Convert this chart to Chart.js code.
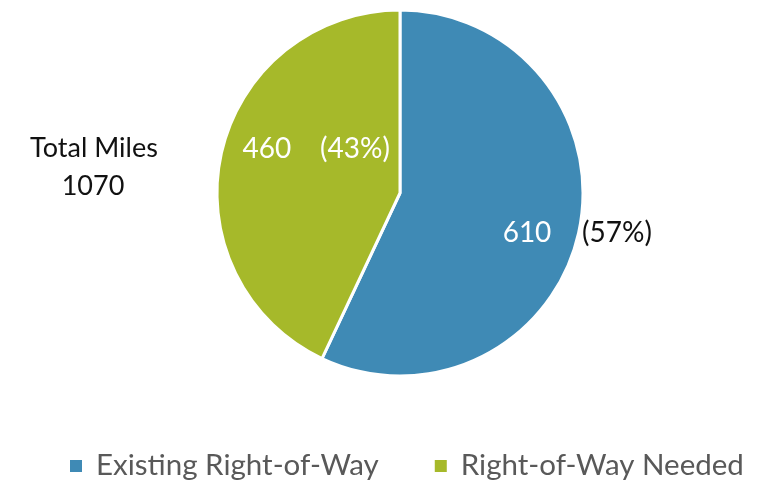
<!DOCTYPE html>
<html>
<head>
<meta charset="utf-8">
<script src="https://cdn.jsdelivr.net/npm/chart.js@4.4.0/dist/chart.umd.min.js"></script>
<style>
  html, body { margin: 0; padding: 0; background: #fff; }
  #wrap { width: 772px; height: 481px; }
</style>
</head>
<body>
<div id="wrap"><canvas id="pie" width="772" height="481"></canvas></div>
<script>
const categories = ['Existing Right-of-Way', 'Right-of-Way Needed']
const miles = [610, 460]
const percents = ['(57%)', '(43%)']
const colors = ['#3f8ab5', '#a6b92a']

const FONT = 'Lato, "Open Sans", sans-serif'

// label pieces placed relative to the pie centre, in units of radius
const labelSpots = [
    [{ dx: 0.694, dy: 0.268, part: 'value', color: '#fff' }, { dx: 1.186, dy: 0.268, part: 'pct', color: '#111' }],
    [{ dx: -0.727, dy: -0.191, part: 'value', color: '#fff' }, { dx: -0.246, dy: -0.191, part: 'pct', color: '#fff' }]
]

const sliceLabels = {
    id: 'sliceLabels',
    afterDatasetsDraw(chart) {
        const ctx = chart.ctx
        const arcs = chart.getDatasetMeta(0).data
        ctx.save()
        ctx.font = '28px ' + FONT
        ctx.textAlign = 'center'
        ctx.textBaseline = 'alphabetic'
        arcs.forEach((arc, i) => {
            labelSpots[i].forEach(spot => {
                const text = spot.part === 'value' ? String(miles[i]) : percents[i]
                ctx.fillStyle = spot.color
                ctx.fillText(text, arc.x + spot.dx * arc.outerRadius, arc.y + spot.dy * arc.outerRadius)
            })
        })
        // total, to the left of the pie
        const total = miles.reduce((a, b) => a + b, 0)
        ctx.fillStyle = '#111'
        ctx.font = '27px ' + FONT
        ctx.fillText('Total Miles', 94, 157)
        ctx.fillText(String(total), 93, 195)
        ctx.restore()
    }
}

// legend drawn by hand so the spacing can match (Excel style)
const bottomLegend = {
    id: 'bottomLegend',
    afterDraw(chart) {
        const ctx = chart.ctx
        const meta = chart.getDatasetMeta(0)
        ctx.save()
        ctx.font = '29.5px ' + FONT
        ctx.textAlign = 'left'
        ctx.textBaseline = 'alphabetic'
        let x = 70
        categories.forEach((name, i) => {
            ctx.fillStyle = meta.data[i].options.backgroundColor
            ctx.fillRect(x, 460, 12, 12)
            ctx.fillStyle = '#595959'
            ctx.fillText(name, x + 26, 475)
            x += 26 + ctx.measureText(name).width + 56
        })
        ctx.restore()
    }
}

new Chart(document.getElementById('pie'), {
    type: 'pie',
    data: {
        labels: categories,
        datasets: [{
            data: miles,
            backgroundColor: colors,
            borderColor: '#fff',
            borderWidth: 3,
            hoverOffset: 0
        }]
    },
    options: {
        responsive: false,
        animation: false,
        radius: 183,
        layout: { padding: { top: 10, left: 28, right: 0, bottom: 105 } },
        plugins: {
            tooltip: { enabled: false },
            legend: { display: false }
        }
    },
    plugins: [sliceLabels, bottomLegend]
})
</script>
</body>
</html>
